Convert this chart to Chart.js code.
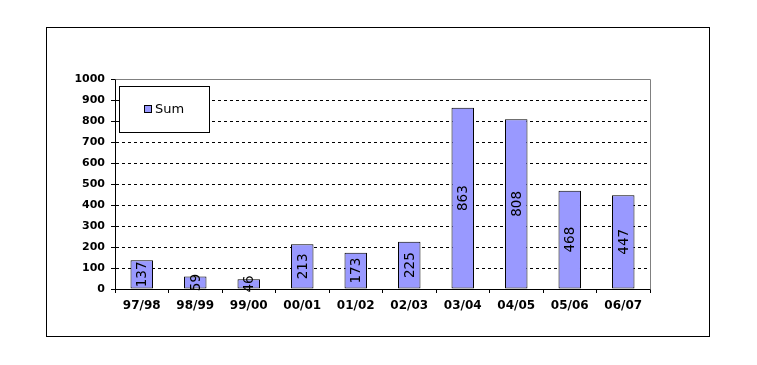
<!DOCTYPE html>
<html lang="en">
<head>
    <meta charset="UTF-8">
    <title>Sum per year</title>
    <script src="https://cdn.jsdelivr.net/npm/chart.js"></script>
    <style>
        * { margin: 0; padding: 0; box-sizing: border-box; }
        body { background: #ffffff; width: 757px; height: 365px; overflow: hidden; }
        canvas { display: block; }
    </style>
</head>
<body>
    <canvas id="sumChart" width="757" height="365"></canvas>

    <script>
        // data
        const years = ['97/98', '98/99', '99/00', '00/01', '01/02', '02/03', '03/04', '04/05', '05/06', '06/07'];
        const sums = [137, 59, 46, 213, 173, 225, 863, 808, 468, 447];
        const yTicks = [0, 100, 200, 300, 400, 500, 600, 700, 800, 900, 1000];

        const labelFont = 'DejaVu Sans, Verdana, sans-serif';

        // outer frame, grey plot border, legend box and the rotated value labels
        const decorations = {
            id: 'decorations',
            beforeDatasetsDraw(chart) {
                const ctx = chart.ctx;
                const a = chart.chartArea;
                ctx.save();
                ctx.strokeStyle = '#000000';
                ctx.lineWidth = 1;
                ctx.strokeRect(46.5, 27.5, 663, 309);
                // grey top and right edge of the plot
                ctx.strokeStyle = '#808080';
                ctx.beginPath();
                ctx.moveTo(Math.round(a.left) + 0.5, Math.round(a.top) + 0.5);
                ctx.lineTo(Math.round(a.right) + 0.5, Math.round(a.top) + 0.5);
                ctx.lineTo(Math.round(a.right) + 0.5, Math.round(a.bottom) + 0.5);
                ctx.stroke();
                ctx.restore();
            },
            afterDatasetsDraw(chart) {
                const ctx = chart.ctx;
                const meta = chart.getDatasetMeta(0);
                const ds = chart.data.datasets[0];
                ctx.save();
                ctx.fillStyle = '#000000';
                ctx.font = '13.5px ' + labelFont;
                ctx.textAlign = 'center';
                ctx.textBaseline = 'middle';
                meta.data.forEach((bar, i) => {
                    const p = bar.getProps(['x', 'y', 'base'], true);
                    ctx.save();
                    ctx.translate(p.x + 1, (p.y + p.base) / 2);
                    ctx.rotate(-Math.PI / 2);
                    ctx.fillText(String(ds.data[i]), 0, 0);
                    ctx.restore();
                });

                // legend box inside the plot
                ctx.fillStyle = '#ffffff';
                ctx.fillRect(119, 86, 91, 47);
                ctx.strokeStyle = '#000000';
                ctx.lineWidth = 1;
                ctx.strokeRect(119.5, 86.5, 90, 46);
                ctx.fillStyle = ds.backgroundColor;
                ctx.fillRect(144, 105, 8, 8);
                ctx.strokeRect(144.5, 105.5, 7, 7);
                ctx.fillStyle = '#000000';
                ctx.font = '13px ' + labelFont;
                ctx.textAlign = 'left';
                ctx.textBaseline = 'middle';
                ctx.fillText(ds.label, 155, 110);
                ctx.restore();
            }
        };

        const ctx = document.getElementById('sumChart').getContext('2d');
        new Chart(ctx, {
            type: 'bar',
            data: {
                labels: years,
                datasets: [{
                    label: 'Sum',
                    data: sums,
                    backgroundColor: '#9999ff',
                    borderColor: '#000000',
                    borderWidth: 1,
                    borderSkipped: false,
                    categoryPercentage: 1,
                    barPercentage: 0.42
                }]
            },
            options: {
                responsive: false,
                animation: false,
                events: [],
                layout: {
                    padding: { left: 55, right: 107, top: 79, bottom: 46 }
                },
                plugins: {
                    legend: { display: false },
                    tooltip: { enabled: false }
                },
                scales: {
                    x: {
                        offset: true,
                        afterFit(scale) { scale.height = 30; },
                        grid: {
                            offset: true,
                            drawOnChartArea: false,
                            drawTicks: true,
                            tickLength: 4,
                            tickColor: '#000000'
                        },
                        border: { color: '#000000', width: 1 },
                        ticks: {
                            color: '#000000',
                            padding: 6,
                            maxRotation: 0,
                            font: { family: labelFont, size: 12, weight: 'bold' }
                        }
                    },
                    y: {
                        min: 0,
                        max: 1000,
                        afterFit(scale) { scale.width = 60; },
                        afterBuildTicks(scale) {
                            scale.ticks = yTicks.map(v => ({ value: v }));
                        },
                        grid: {
                            color: c => (c.tick && c.tick.value > 0 && c.tick.value < 1000) ? '#000000' : 'rgba(0,0,0,0)',
                            tickColor: '#000000',
                            tickLength: 4,
                            tickBorderDash: []
                        },
                        border: { color: '#000000', width: 1, dash: [3, 3] },
                        ticks: {
                            color: '#000000',
                            padding: 6,
                            callback: v => String(v),
                            font: { family: labelFont, size: 11, weight: 'bold' }
                        }
                    }
                }
            },
            plugins: [decorations]
        });
    </script>
</body>
</html>
